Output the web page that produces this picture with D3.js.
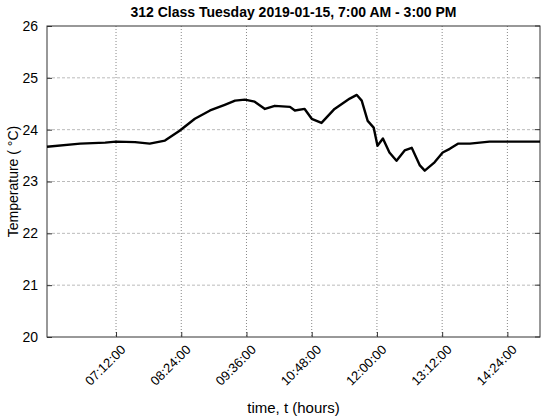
<!DOCTYPE html>
<html><head><meta charset="utf-8">
<script src="https://cdn.jsdelivr.net/npm/d3@7"></script>
<style>body{margin:0;background:#fff}text{font-family:"Liberation Sans",Arial,sans-serif}</style>
</head><body><svg id="c" width="550" height="419"></svg>
<script>
// time of day (hours) and temperature (°C)
const times = [5.93,6.54,7.0,7.2,7.55,7.82,8.1,8.37,8.65,8.93,9.2,9.39,9.57,9.75,9.94,10.12,10.4,10.49,10.67,10.8,10.98,11.22,11.5,11.63,11.72,11.83,11.94,12.01,12.11,12.23,12.36,12.51,12.64,12.79,12.88,13.06,13.21,13.34,13.49,13.71,14.07,14.53,15.0];
const temps = [23.67,23.73,23.75,23.77,23.76,23.73,23.79,23.98,24.21,24.37,24.48,24.56,24.58,24.54,24.4,24.46,24.44,24.37,24.4,24.21,24.13,24.4,24.6,24.67,24.56,24.17,24.04,23.69,23.83,23.56,23.4,23.6,23.65,23.31,23.21,23.37,23.56,23.63,23.73,23.73,23.77,23.77,23.77];
const xTicks = [7.2,8.4,9.6,10.8,12.0,13.2,14.4];
const yTicks = [20,21,22,23,24,25,26];

const L = 47, R = 540, T = 26, B = 337;
const svg = d3.select("#c");
const x = d3.scaleLinear().domain([5.93, 15]).range([L, R]);
const y = d3.scaleLinear().domain([20, 26]).range([B, T]);
const fmt = h => { const m = Math.round(h * 60); return d3.format("02")(Math.floor(m / 60)) + ":" + d3.format("02")(m % 60) + ":00"; };

// grid
svg.append("g").selectAll("line").data(xTicks).join("line")
  .attr("x1", x).attr("x2", x).attr("y1", T).attr("y2", B)
  .attr("stroke", "#888").attr("stroke-dasharray", "1,2");
svg.append("g").selectAll("line").data(yTicks.slice(1, -1)).join("line")
  .attr("y1", y).attr("y2", y).attr("x1", L).attr("x2", R)
  .attr("stroke", "#bbb").attr("stroke-dasharray", "3,2");

// axes (ticks inside, MATLAB-like)
const gx = svg.append("g").attr("transform", `translate(0,${B})`)
  .call(d3.axisBottom(x).tickValues(xTicks).tickFormat(fmt).tickSizeInner(-5).tickSizeOuter(0).tickPadding(10));
gx.selectAll("text").attr("text-anchor", "end").attr("transform", "rotate(-45)")
  .attr("dx", "-0.2em").attr("dy", "0.5em").style("font-size", "13px");
const gy = svg.append("g").attr("transform", `translate(${L},0)`)
  .call(d3.axisLeft(y).tickValues(yTicks).tickFormat(d3.format("d")).tickSizeInner(-5).tickSizeOuter(0).tickPadding(9));
gy.selectAll("text").style("font-size", "14px");
svg.selectAll(".domain").remove();
svg.selectAll(".tick line").attr("stroke", "#333");

// right-side ticks
svg.append("g").selectAll("line").data(yTicks).join("line")
  .attr("x1", R - 5).attr("x2", R).attr("y1", y).attr("y2", y).attr("stroke", "#333");

svg.append("rect").attr("x", L).attr("y", T).attr("width", R - L).attr("height", B - T)
  .attr("fill", "none").attr("stroke", "#333");

// line
svg.append("path").datum(d3.zip(times, temps))
  .attr("fill", "none").attr("stroke", "#000").attr("stroke-width", 2.4).attr("stroke-linejoin", "round")
  .attr("d", d3.line().x(d => x(d[0])).y(d => y(d[1])));

// labels
svg.append("text").attr("x", (L + R) / 2).attr("y", 17).attr("text-anchor", "middle")
  .style("font-size", "14px").style("font-weight", "bold")
  .text("312 Class Tuesday 2019-01-15, 7:00 AM - 3:00 PM");
svg.append("text").attr("x", (L + R) / 2).attr("y", 413).attr("text-anchor", "middle")
  .style("font-size", "15px").text("time, t (hours)");
svg.append("text").attr("transform", `translate(18,${(T + B) / 2}) rotate(-90)`).attr("text-anchor", "middle")
  .style("font-size", "14px").text("Temperature ( °C)");
</script></body></html>
